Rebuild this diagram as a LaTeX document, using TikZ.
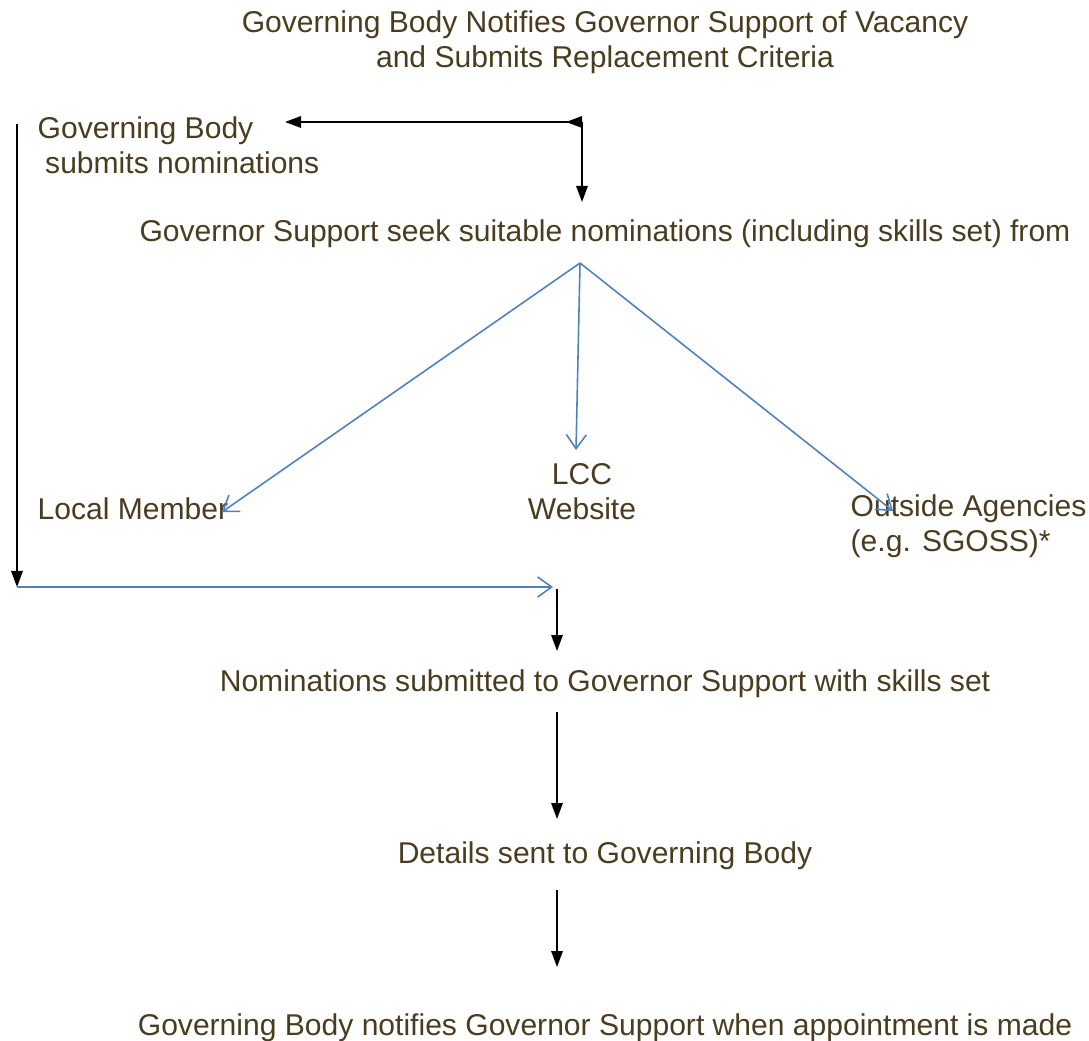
\documentclass[tikz,border=0pt]{standalone}
\usepackage{fontspec}
\setmainfont{Liberation Sans}
\usetikzlibrary{arrows.meta}

\begin{document}
\begin{tikzpicture}[x=0.01cm,y=-0.01cm,
        txt/.style={text=txtBrown,font=\fontsize{8.55}{9.9}\selectfont,inner sep=0pt},
        blackArrow/.style={line width=0.45pt,-{Triangle[length=1.6mm,width=1.15mm]}},
        blueArrow/.style={draw=lineBlue,line width=0.45pt,-{Straight Barb[length=1.4mm,width=2mm]}}]
            \definecolor{txtBrown}{RGB}{74,60,30}
            \definecolor{lineBlue}{RGB}{79,129,189}
            \useasboundingbox (0,0) rectangle (1089,1040);
            % texts
            \node[txt,align=center] (notice) at (605,42) {Governing Body Notifies Governor Support of Vacancy\\and Submits Replacement Criteria};
            \node[txt,align=left,anchor=west] (gbNom) at (37,145) {Governing Body\\\hspace{0.25em}submits nominations};
            \node[txt] (seek) at (605,234) {Governor Support seek suitable nominations (including skills set) from};
            \node[txt,anchor=west] (member) at (37,509) {Local Member};
            \node[txt,align=center] (lcc) at (582,492) {LCC\\Website};
            \node[txt,align=left,anchor=west] (agencies) at (850,526) {Outside Agencies\\(e.g. SGOSS)*};
            \node[txt] (submitted) at (605,684) {Nominations submitted to Governor Support with skills set};
            \node[txt] (details) at (605,856) {Details sent to Governing Body};
            \node[txt] (appoint) at (605,1028) {Governing Body notifies Governor Support when appointment is made};
            % junctions and arrow ends
            \coordinate (corner) at (582,122);
            \coordinate (gbTip) at (285,122);
            \coordinate (seekTip) at (582,202);
            \coordinate (split) at (580,263);
            \coordinate (memberTip) at (222,512);
            \coordinate (lccTip) at (576,450);
            \coordinate (agencyTip) at (893,511);
            \coordinate (leftTop) at (17,124);
            \coordinate (leftBot) at (17,587);
            \coordinate (joinTip) at (553,587);
            \coordinate (stemA) at (557,589);
            \coordinate (stemATip) at (557,651);
            \coordinate (stemB) at (557,712);
            \coordinate (stemBTip) at (557,819);
            \coordinate (stemC) at (557,890);
            \coordinate (stemCTip) at (557,967);
            % connectors
            \draw[blackArrow,{Triangle[length=1.6mm,width=1.15mm,reversed]}-{Triangle[length=1.6mm,width=1.15mm]}] (corner) -- (gbTip);
            \draw[blackArrow] (corner) -- (seekTip);
            \draw[blueArrow] (split) -- (memberTip);
            \draw[blueArrow] (split) -- (lccTip);
            \draw[blueArrow] (split) -- (agencyTip);
            \draw[blackArrow] (leftTop) -- (leftBot);
            \draw[blueArrow] (leftBot) -- (joinTip);
            \draw[blackArrow] (stemA) -- (stemATip);
            \draw[blackArrow] (stemB) -- (stemBTip);
            \draw[blackArrow] (stemC) -- (stemCTip);
        \end{tikzpicture}
\end{document}
